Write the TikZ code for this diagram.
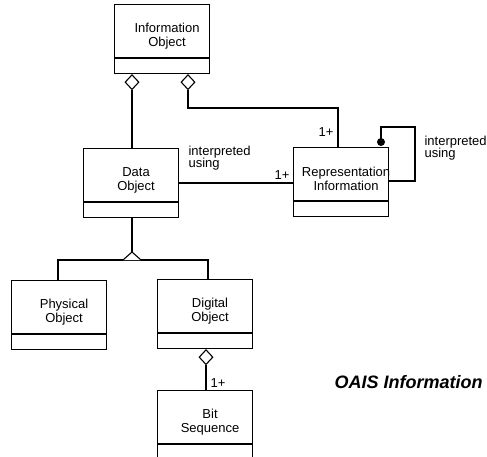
\documentclass[tikz,border=0pt]{standalone}
\usepackage{fontspec}
\setmainfont{Liberation Sans}
\usetikzlibrary{calc,shapes.geometric}
\begin{document}
\begin{tikzpicture}[x=1pt,y=-1pt,
  line width=1.1pt,
  cls/.style={draw, rectangle, minimum width=95pt, minimum height=69pt,
    inner sep=0pt, anchor=north west},
  clstxt/.style={align=center, inner sep=0pt,
    font=\fontsize{13}{14}\selectfont},
  lbl/.style={inner sep=0pt, align=left, anchor=base west,
    font=\fontsize{13}{12.5}\selectfont},
  aggd/.style={draw, fill=white, diamond, inner sep=0pt,
    minimum width=14pt, minimum height=15pt, anchor=north},
]
\useasboundingbox (0,0) rectangle (487,457);
\clip (0,0) rectangle (487,457);

% class boxes: name compartment, then an empty attribute compartment
\newcommand\umlclass[5][69]{%
  \node[cls, minimum height=#1pt] (#2) at (#3,#4) {};
  \draw ($(#2.north west)+(0,54)$) -- ($(#2.north east)+(0,54)$);
  \node[clstxt] (#2-t) at ($(#2.north)+(5,32)$) {#5};
}

\umlclass{info}{114}{4}{Information\\Object}
\umlclass{data}{83}{148}{Data\\Object}
\umlclass{rep}{293}{147}{Representation\\Information}
\umlclass{phys}{11}{280}{Physical\\Object}
\umlclass{dig}{157}{279}{Digital\\Object}
\umlclass[80]{bit}{157}{390}{Bit\\Sequence}

% aggregation: Information Object -> Data Object
\node[aggd] (d1) at ($(info.south west)+(18,0)$) {};
\draw (d1.south) -- (d1.south |- data.north);

% aggregation: Information Object -> Representation Information
\node[aggd] (d2) at ($(info.south west)+(74,0)$) {};
\coordinate (r1) at (338,108);
\draw (d2.south) |- (r1) -- (r1 |- rep.north);
\node[lbl, anchor=base east] (m1) at (334,137) {1+};

% association: Data Object interpreted using Representation Information
\coordinate (h) at (0,183);
\draw (data.east |- h) -- (rep.west |- h);
\node[lbl] (a1) at (188,168) {interpreted\\using};
\node[lbl, anchor=base east] (m2) at (290,180) {1+};

% self association on Representation Information
\node[circle, fill, inner sep=0pt, minimum size=8pt] (dot) at (381,142) {};
\coordinate (l1) at (415,127);
\coordinate (l2) at (415,181);
\draw (dot.center) |- (l1) -- (l2) -- (l2 -| rep.east);
\node[lbl] (a2) at (424,158) {interpreted\\using};

% generalization: Physical / Digital Object are Data Objects
\coordinate (gen) at (132,260);
\coordinate (gl) at (58,260);
\coordinate (gr) at (208,260);
\draw (data.south -| gen) -- ($(gen)+(0,-8)$);
\draw (gl |- phys.north) -- (gl) -- (gr) -- (gr |- dig.north);
\draw[fill=white] ($(gen)+(-9,0)$) -- ($(gen)+(0,-8)$) -- ($(gen)+(9,0)$);

% aggregation: Digital Object -> Bit Sequence
\node[aggd] (d3) at ($(dig.south west)+(49,0)$) {};
\draw (d3.south) -- (d3.south |- bit.north);
\node[lbl] (m3) at (210,387) {1+};

% caption
\node[inner sep=0pt, anchor=base west,
  font=\fontsize{18}{20}\selectfont\bfseries\itshape] (cap) at (334,388)
  {OAIS Information};
\end{tikzpicture}
\end{document}
